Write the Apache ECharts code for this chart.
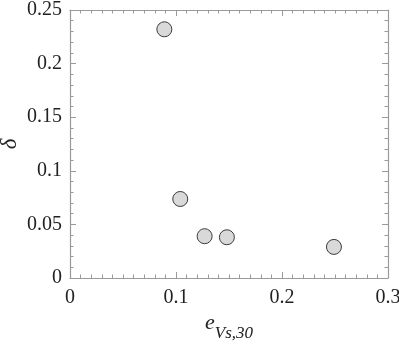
<!DOCTYPE html>
<html><head><meta charset="utf-8">
<script src="https://cdn.jsdelivr.net/npm/echarts@6/dist/echarts.min.js"></script>
<style>html,body{margin:0;padding:0;background:#fff}#c{width:399px;height:348px}</style>
</head><body><div id="c"></div>
<script>
const xValues = [0.089, 0.104, 0.127, 0.148, 0.249];
const yValues = [0.232, 0.0737, 0.039, 0.038, 0.029];
const xTicks = [0, 0.1, 0.2, 0.3];
const yTicks = [0, 0.05, 0.1, 0.15, 0.2, 0.25];

const chart = echarts.init(document.getElementById('c'), null, {renderer: 'canvas'});
const axisColor = '#9a9a9a';
const serif = '"Liberation Serif", "Times New Roman", Times, serif';
const labelFont = {fontFamily: serif, fontSize: 20, color: '#222'};
function fmt(v, list){ const t = list.find(a => Math.abs(a - v) < 1e-9); return t === undefined ? '' : String(t); }
const common = {
  axisLine: {show: true, onZero: false, lineStyle: {color: axisColor, width: 1.2}},
  axisTick: {show: true, inside: true, length: 6, lineStyle: {color: axisColor}},
  minorTick: {show: true, splitNumber: 10, length: 3.5, lineStyle: {color: axisColor}},
  splitLine: {show: false}
};
const yMinor = {minorTick: {show: true, splitNumber: 5, length: 3.5, lineStyle: {color: axisColor}}};
chart.setOption({
  animation: false,
  grid: {left: 70, right: 11, top: 10, bottom: 70, containLabel: false, outerBoundsMode: 'none'},
  xAxis: [
    Object.assign({type: 'value', min: 0, max: 0.3, interval: 0.1, position: 'bottom',
      axisLabel: Object.assign({margin: 10, formatter: v => fmt(v, xTicks)}, labelFont),
      name: '{e|e}{s|Vs,30}', nameLocation: 'middle', nameGap: 34, nameMoveOverlap: false,
      nameTextStyle: {rich: {
        e: {fontFamily: serif, fontStyle: 'italic', fontSize: 22, color: '#222', lineHeight: 22, verticalAlign: 'top'},
        s: {fontFamily: serif, fontStyle: 'italic', fontSize: 17, color: '#222', padding: [13, 0, 0, 0], verticalAlign: 'top'}
      }}
    }, common),
    Object.assign({type: 'value', min: 0, max: 0.3, interval: 0.1, position: 'top', axisLabel: {show: false}}, common)
  ],
  yAxis: [
    Object.assign({type: 'value', min: 0, max: 0.25, interval: 0.05, position: 'left',
      axisLabel: Object.assign({margin: 8, formatter: v => fmt(v, yTicks)}, labelFont),
      name: 'δ', nameLocation: 'middle', nameGap: 49, nameRotate: 90, nameMoveOverlap: false,
      nameTextStyle: {fontFamily: serif, fontStyle: 'italic', fontSize: 23, color: '#222'}
    }, common, yMinor),
    Object.assign({type: 'value', min: 0, max: 0.25, interval: 0.05, position: 'right', axisLabel: {show: false}},
      common, yMinor)
  ],
  series: [{
    type: 'scatter', xAxisIndex: 0, yAxisIndex: 0,
    data: xValues.map((x, i) => [x, yValues[i]]),
    symbol: 'circle', symbolSize: 15,
    itemStyle: {color: '#d9d9d9', borderColor: '#3a3a3a', borderWidth: 1, opacity: 1}
  }]
});
</script></body></html>
